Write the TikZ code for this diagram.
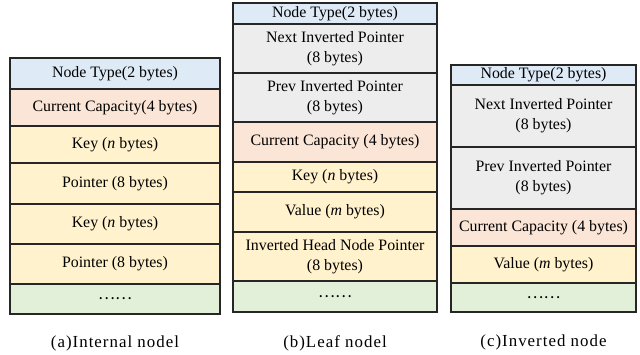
\documentclass[tikz,border=0pt]{standalone}
\usepackage{fontspec}
\setmainfont{Liberation Serif}
\newfontfamily\cjk{Noto Sans CJK SC}
\usetikzlibrary{positioning}
\definecolor{typeblue}{HTML}{DEEBF7}
\definecolor{ptrgray}{HTML}{EDEDED}
\definecolor{capred}{HTML}{FBE5D6}
\definecolor{keyyellow}{HTML}{FFF2CC}
\definecolor{moregreen}{HTML}{E2F0D9}
\begin{document}
\begin{tikzpicture}
\tikzset{field/.style={draw=black!85,line width=0.9pt,outer sep=0pt,inner sep=1pt,
align=center,font=\fontsize{11.3}{14.5}\selectfont}}
\tikzset{ca/.style={field,minimum width=5.25cm}}
\tikzset{cb/.style={field,minimum width=5.1cm}}
\tikzset{cc/.style={field,minimum width=4.625cm}}
\tikzset{caption/.style={inner sep=0pt,font=\fontsize{12}{14}\selectfont\addfontfeature{LetterSpace=6}}}
\useasboundingbox (0,0) rectangle (16,-8.875);
% (a) internal node
\node[ca,fill=typeblue,minimum height=0.775cm,anchor=north west] (a1) at (0.25,-1.45) {Node Type(2 bytes)};
\node[ca,fill=capred,minimum height=0.925cm,below=0pt of a1] (a2) {Current Capacity(4 bytes)};
\node[ca,fill=keyyellow,minimum height=0.925cm,below=0pt of a2] (a3) {Key (\textit{n} bytes)};
\node[ca,fill=keyyellow,minimum height=1.025cm,below=0pt of a3] (a4) {Pointer (8 bytes)};
\node[ca,fill=keyyellow,minimum height=1cm,below=0pt of a4] (a5) {Key (\textit{n} bytes)};
\node[ca,fill=keyyellow,minimum height=1cm,below=0pt of a5] (a6) {Pointer (8 bytes)};
\node[ca,fill=moregreen,minimum height=0.75cm,below=0pt of a6] (a7) {\cjk{……}};
\node[caption,below=0.55cm of a7] (capa) {(a)Internal nodel};
% (b) leaf node
\node[cb,fill=typeblue,minimum height=0.525cm,anchor=north west] (b1) at (5.825,-0.075) {Node Type(2 bytes)};
\node[cb,fill=ptrgray,minimum height=1.225cm,below=0pt of b1] (b2) {Next Inverted Pointer\\(8 bytes)};
\node[cb,fill=ptrgray,minimum height=1.225cm,below=0pt of b2] (b3) {Prev Inverted Pointer\\(8 bytes)};
\node[cb,fill=capred,minimum height=1cm,below=0pt of b3] (b4) {Current Capacity (4 bytes)};
\node[cb,fill=keyyellow,minimum height=0.75cm,below=0pt of b4] (b5) {Key (\textit{n} bytes)};
\node[cb,fill=keyyellow,minimum height=1cm,below=0pt of b5] (b6) {Value (\textit{m} bytes)};
\node[cb,fill=keyyellow,minimum height=1.225cm,below=0pt of b6] (b7) {Inverted Head Node Pointer\\(8 bytes)};
\node[cb,fill=moregreen,minimum height=0.775cm,below=0pt of b7] (b8) {\cjk{……}};
\node[caption,below=0.575cm of b8] (capb) {(b)Leaf nodel};
% (c) inverted node
\node[cc,fill=typeblue,minimum height=0.5cm,anchor=north west] (c1) at (11.275,-1.625) {Node Type(2 bytes)};
\node[cc,fill=ptrgray,minimum height=1.55cm,below=0pt of c1] (c2) {Next Inverted Pointer\\(8 bytes)};
\node[cc,fill=ptrgray,minimum height=1.55cm,below=0pt of c2] (c3) {Prev Inverted Pointer\\(8 bytes)};
\node[cc,fill=capred,minimum height=0.925cm,below=0pt of c3] (c4) {Current Capacity (4 bytes)};
\node[cc,fill=keyyellow,minimum height=0.925cm,below=0pt of c4] (c5) {Value (\textit{m} bytes)};
\node[cc,fill=moregreen,minimum height=0.725cm,below=0pt of c5] (c6) {\cjk{……}};
\node[caption,below=0.575cm of c6] (capc) {(c)Inverted node};
\end{tikzpicture}
\end{document}
